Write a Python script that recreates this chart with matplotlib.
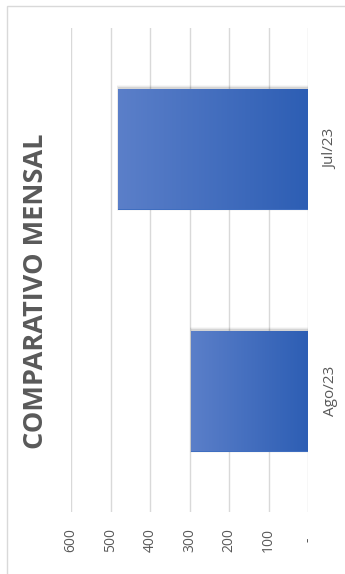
import numpy as np
import matplotlib
matplotlib.use("Agg")
import matplotlib.pyplot as plt
from matplotlib.patches import Rectangle
from matplotlib.colors import LinearSegmentedColormap

categories = ["Ago/23", "Jul/23"]
values = [296, 481]
tick_values = [0, 100, 200, 300, 400, 500, 600]
tick_labels = ["-", "100", "200", "300", "400", "500", "600"]
title = "COMPARATIVO MENSAL"

W, H = 345, 574
fig = plt.figure(figsize=(W / 100, H / 100), dpi=100)
fig.patch.set_facecolor("white")

# outer chart border (top and left edges visible)
fig.patches.append(Rectangle((7 / W, -0.1), 1.2, (H - 6) / H + 0.1,
                             transform=fig.transFigure, fill=False,
                             edgecolor="#d9d9d9", linewidth=1.0))

ax = fig.add_axes([71 / W, (H - 512) / H, 237 / W, 484 / H])
ax.set_xlim(600, 0)
ax.set_ylim(-0.5, 1.5)
for s in ax.spines.values():
    s.set_visible(False)

fam = ["Open Sans", "DejaVu Sans"]
ax.set_xticks(tick_values)
ax.set_xticklabels(tick_labels, rotation=90, color="#595959", fontsize=10,
                   family=fam, va="center")
ax.tick_params(axis="x", length=0, pad=20)
ax.xaxis.grid(True, color="#d9d9d9", linewidth=1.0)
ax.set_axisbelow(True)

pos = np.arange(len(categories))
ax.set_yticks(pos)
ax.set_yticklabels(categories, rotation=90, color="#595959", fontsize=11,
                   family=fam, va="center")
ax.yaxis.tick_right()
ax.tick_params(axis="y", length=0, pad=11)

cmap = LinearSegmentedColormap.from_list("g", ["#2d5eb4", "#5b7fc9"])
grad = np.linspace(0, 1, 256).reshape(1, -1)
for p, v in zip(pos, values):
    # soft shadow around the bar, slightly toward the top
    for k, a in enumerate([0.09, 0.05, 0.03]):
        d = (k + 1) * 0.004
        ax.barh(p + 0.004, v + (k + 1) * 1.2, height=0.5 + 2 * d, left=0,
                color="black", alpha=a, linewidth=0, zorder=2)
    bar = ax.barh(p, v, height=0.5, color="#3f6ec0", linewidth=0, zorder=3)[0]
    im = ax.imshow(grad, extent=(0, v, p - 0.25, p + 0.25), cmap=cmap,
                   aspect="auto", zorder=4, interpolation="bicubic")
    im.set_clip_path(bar)

ax.set_ylim(-0.5, 1.5)
ax.set_xlim(600, 0)

fig.text(36 / W, 1 - 291 / H, title, rotation=90, ha="center", va="center",
         fontsize=19.5, fontweight="bold", color="#595959", family=fam)

fig.savefig("out.png", dpi=100, facecolor="white")
